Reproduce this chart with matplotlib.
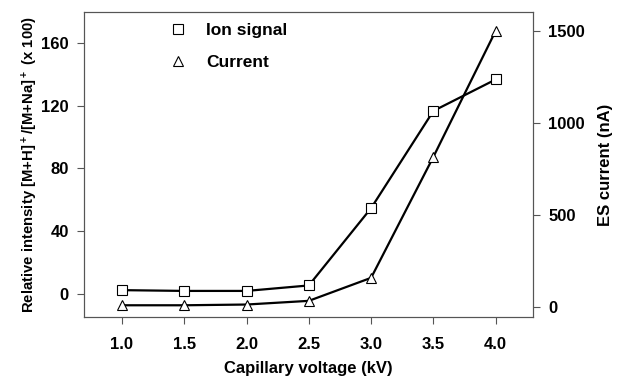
import matplotlib
matplotlib.use("Agg")
import matplotlib.pyplot as plt
from matplotlib.lines import Line2D

plt.rcParams['font.family'] = ['Liberation Sans', 'DejaVu Sans']
plt.rcParams['font.weight'] = 'bold'
plt.rcParams['mathtext.fontset'] = 'custom'
plt.rcParams['mathtext.rm'] = 'Liberation Sans:bold'
plt.rcParams['mathtext.bf'] = 'Liberation Sans:bold'
plt.rcParams['mathtext.default'] = 'bf'

voltage = [1.0, 1.5, 2.0, 2.5, 3.0, 3.5, 4.0]
ion_signal = [2.2, 1.7, 1.7, 5.2, 54.6, 116.7, 136.8]
current = [10, 10, 14, 34, 159, 816, 1500]

x_ticks = [1.0, 1.5, 2.0, 2.5, 3.0, 3.5, 4.0]
left_ticks = [0, 40, 80, 120, 160]
right_ticks = [0, 500, 1000, 1500]

fig = plt.figure(figsize=(6.17, 3.82), dpi=100)
ax = fig.add_axes([0.136, 0.170, 0.728, 0.799])
ax2 = ax.twinx()

ax.plot(voltage, ion_signal, color='black', lw=1.6, marker='s', ms=7,
        mfc='white', mec='black', mew=0.8, zorder=3)
ax2.plot(voltage, current, color='black', lw=1.6, marker='^', ms=7.5,
         mfc='white', mec='black', mew=0.8, zorder=3)

ax.set_xlim(0.695, 4.30)
ax.set_ylim(-15, 180)
ax2.set_ylim(-54, 1603)

ax.set_xticks(x_ticks)
ax.set_xticklabels([f"{v:.1f}" for v in x_ticks])
ax.set_yticks(left_ticks)
ax2.set_yticks(right_ticks)

for a in (ax, ax2):
    a.tick_params(direction='out', length=5, width=0.8, labelsize=12, pad=6,
                  color='#555555')
    for s in a.spines.values():
        s.set_linewidth(0.8)
        s.set_color('#555555')
ax.tick_params(axis='x', pad=9)

ax.set_xlabel('Capillary voltage (kV)', fontsize=12, fontweight='bold', labelpad=7)
ax.set_ylabel(r'Relative intensity [M+H]$^+$/[M+Na]$^+$ (x 100)', fontsize=10.7,
              fontweight='bold', labelpad=1)
ax2.set_ylabel('ES current (nA)', fontsize=12, fontweight='bold', labelpad=9)

handles = [
    Line2D([], [], ls='none', marker='s', ms=7, mfc='white', mec='black', mew=0.8),
    Line2D([], [], ls='none', marker='^', ms=7.5, mfc='white', mec='black', mew=0.8),
]
ax.legend(handles, ['Ion signal', 'Current'], loc='upper left',
          bbox_to_anchor=(0.137, 1.015), frameon=False, fontsize=12.5,
          handletextpad=0.6, labelspacing=0.95)

fig.savefig('out.png', dpi=100)
